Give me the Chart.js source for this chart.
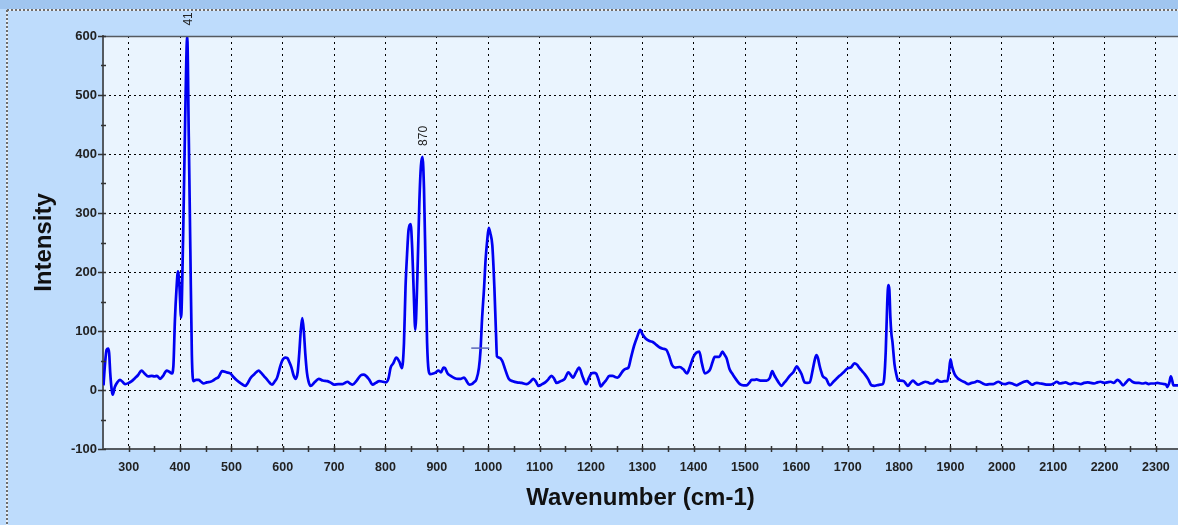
<!DOCTYPE html>
<html>
<head>
<meta charset="utf-8">
<script src="https://cdn.jsdelivr.net/npm/chart.js@4/dist/chart.umd.min.js"></script>
<style>
  html, body { margin: 0; padding: 0; background: #bedcfc; }
  #wrap { width: 1178px; height: 525px; position: relative; }
  canvas { display: block; }
</style>
</head>
<body>
<div id="wrap"><canvas id="c" width="1178" height="525"></canvas></div>
<script>
// ---- Data ----
const wavenumbers = [
  251, 254, 257, 260, 262, 264, 267, 269, 273, 278, 283, 288, 293, 300, 306, 312, 318, 325, 331, 338,
  345, 350, 355, 361, 367, 374, 379, 384, 387, 390, 393, 396, 399, 402, 406, 410, 414, 417, 420, 423,
  426, 431, 436, 441, 446, 452, 459, 464, 469, 475, 482, 490, 498, 504, 511, 519, 527, 532, 537, 545,
  553, 558, 563, 571, 579, 584, 589, 595, 599, 605, 609, 613, 617, 621, 625, 629, 632, 635, 638, 641,
  644, 647, 650, 654, 662, 670, 678, 687, 694, 700, 708, 716, 721, 726, 731, 736, 744, 752, 757, 762,
  768, 775, 781, 788, 795, 801, 806, 810, 815, 821, 827, 832, 836, 839, 842, 845, 849, 852, 855, 858,
  862, 866, 869, 872, 875, 878, 881, 884, 887, 893, 898, 903, 908, 913, 916, 921, 927, 935, 941, 947,
  953, 958, 963, 968, 972, 977, 982, 985, 988, 992, 995, 998, 1001, 1004, 1008, 1012, 1015, 1017, 1021, 1027,
  1033, 1040, 1048, 1056, 1065, 1075, 1082, 1088, 1093, 1098, 1105, 1111, 1117, 1123, 1128, 1133, 1141, 1149, 1156, 1161,
  1165, 1171, 1177, 1184, 1191, 1196, 1201, 1206, 1210, 1215, 1219, 1224, 1229, 1236, 1242, 1247, 1252, 1258, 1263, 1268,
  1273, 1278, 1284, 1290, 1296, 1300, 1307, 1314, 1321, 1328, 1334, 1340, 1347, 1352, 1358, 1364, 1373, 1380, 1387, 1393,
  1399, 1405, 1411, 1416, 1422, 1427, 1432, 1437, 1441, 1446, 1450, 1456, 1460, 1464, 1470, 1475, 1480, 1485, 1490, 1497,
  1503, 1508, 1513, 1518, 1522, 1530, 1536, 1542, 1548, 1553, 1557, 1561, 1566, 1571, 1576, 1580, 1587, 1594, 1601, 1605,
  1610, 1616, 1621, 1626, 1632, 1636, 1639, 1642, 1645, 1648, 1651, 1658, 1665, 1672, 1678, 1684, 1692, 1700, 1706, 1713,
  1718, 1723, 1728, 1733, 1740, 1746, 1752, 1757, 1763, 1768, 1771, 1774, 1777, 1779, 1781, 1783, 1785, 1787, 1791, 1795,
  1798, 1803, 1809, 1813, 1817, 1822, 1827, 1832, 1837, 1845, 1851, 1856, 1861, 1866, 1870, 1874, 1878, 1882, 1888, 1894,
  1897, 1900, 1903, 1908, 1914, 1921, 1928, 1935, 1941, 1947, 1952, 1957, 1963, 1970, 1976, 1983, 1988, 1993, 2000, 2007,
  2014, 2020, 2025, 2029, 2036, 2043, 2049, 2054, 2059, 2064, 2068, 2075, 2082, 2088, 2094, 2101, 2107, 2113, 2119, 2124,
  2129, 2134, 2141, 2148, 2154, 2160, 2167, 2173, 2180, 2186, 2192, 2199, 2205, 2212, 2218, 2225, 2230, 2236, 2242, 2248,
  2254, 2261, 2267, 2274, 2280, 2286, 2290, 2296, 2303, 2309, 2316, 2320, 2322, 2326, 2329, 2332, 2334, 2339, 2344
];
const intensities = [
    8,  45,  68,  70,  62,  30,   0,  -8,   5,  13,  17,  14,  10,  12,  15,  20,  25,  33,  28,  23,
   24,  23,  24,  19,  24,  33,  31,  28,  40, 118, 170, 201, 174, 123, 260, 460, 599, 430, 240,  60,
   15,  17,  17,  14,  11,  13,  14,  16,  19,  22,  32,  30,  28,  22,  16,  11,   7,  12,  20,  27,
   33,  29,  24,  16,   9,  14,  21,  40,  50,  55,  54,  47,  38,  25,  19,  30,  61, 100, 122, 100,
   60,  30,  15,   7,  13,  19,  16,  15,  12,   9,  10,  10,  12,  14,  11,   9,  16,  25,  26,  24,
   18,   9,  12,  15,  14,  13,  20,  38,  45,  55,  48,  37,  80, 174, 230, 272, 281, 240, 165, 102,
  190, 320, 380, 395, 340, 210,  80,  33,  27,  28,  30,  33,  30,  38,  37,  28,  24,  20,  19,  19,
   21,  15,   9,  10,  13,  18,  38,  67, 120, 174, 222, 253, 275, 266, 245, 174, 100,  57,  55,  50,
   35,  19,  15,  13,  12,  10,  14,  19,  14,   7,  10,  13,  18,  24,  20,  12,  15,  19,  30,  25,
   21,  30,  38,  22,  10,  20,  28,  29,  28,  17,   6,  11,  16,  24,  24,  22,  21,  27,  33,  36,
   38,  55,  75,  90, 102,  95,  87,  83,  81,  76,  72,  70,  68,  58,  42,  38,  39,  35,  28,  40,
   55,  63,  65,  45,  28,  30,  35,  48,  56,  56,  56,  65,  60,  54,  35,  28,  21,  15,  10,   8,
    8,  12,  17,  17,  18,  16,  16,  16,  20,  32,  25,  19,  12,   7,  12,  16,  24,  30,  40,  35,
   27,  13,  12,  13,  35,  52,  59,  54,  42,  32,  24,  19,   8,  14,  19,  24,  30,  37,  38,  45,
   43,  37,  32,  27,  18,   8,   7,   8,   9,  10,  20,  66, 150, 178, 170, 123,  95,  82,  44,  25,
   16,  16,  15,  11,   7,  12,  16,  12,   9,  12,  14,  13,  11,  11,  14,  17,  15,  14,  15,  15,
   30,  52,  40,  27,  20,  16,  13,  10,  12,  13,  15,  14,  11,   9,  10,  10,  12,  14,  11,  10,
   12,  11,   9,   8,  11,  14,  15,  12,   9,  11,  12,  11,  10,   9,   9,  11,  14,  11,  12,  13,
   11,  10,  12,  11,  10,  12,  13,  12,  11,  13,  14,  12,  13,  14,  12,  17,  14,   8,  13,  18,
   14,  12,  12,  11,  12,  10,  11,  11,  12,  11,  10,   9,   5,  12,  23,  15,   8,   8,   8
];
const xTickValues = [300, 400, 500, 600, 700, 800, 900, 1000, 1100, 1200, 1300, 1400, 1500, 1600, 1700, 1800, 1900, 2000, 2100, 2200, 2300];
const yTickValues = [-100, 0, 100, 200, 300, 400, 500, 600];
const peakLabels = ['41', '870'];
const peakX = [414, 872];
const peakY = [599, 395];
const cursorX = [967, 1002];
const cursorY = [71, 71];

const xTitle = 'Wavenumber (cm-1)';
const yTitle = 'Intensity';

// ---- Build chart ----
const FONT = "'Liberation Sans', Arial, Helvetica, sans-serif";
const points = wavenumbers.map((w, i) => ({ x: w, y: intensities[i] }));

const decor = {
  id: 'decor',
  beforeDraw(chart) {
    const { ctx, chartArea: a, width, height } = chart;
    ctx.save();
    ctx.fillStyle = '#bedcfc';
    ctx.fillRect(0, 0, width, height);
    ctx.fillStyle = '#a0c5ef';
    ctx.fillRect(0, 0, width, 9);
    // dotted frame
    ctx.lineWidth = 2;
    ctx.strokeStyle = '#e8eef6';
    ctx.beginPath();
    ctx.moveTo(7, 10); ctx.lineTo(width, 10);
    ctx.moveTo(7, 10); ctx.lineTo(7, height);
    ctx.stroke();
    ctx.strokeStyle = '#6d6d6d';
    ctx.setLineDash([2, 2]);
    ctx.beginPath();
    ctx.moveTo(7, 10); ctx.lineTo(width, 10);
    ctx.moveTo(7, 10); ctx.lineTo(7, height);
    ctx.stroke();
    ctx.setLineDash([]);
    // plot area
    ctx.fillStyle = '#eaf4fe';
    ctx.fillRect(a.left, a.top, a.right - a.left, a.bottom - a.top);
    ctx.restore();
  },
  afterDraw(chart) {
    const { ctx, chartArea: a, scales } = chart;
    const xs = scales.x, ys = scales.y;
    ctx.save();
    // top frame line
    ctx.strokeStyle = '#555a60';
    ctx.lineWidth = 1.5;
    ctx.beginPath();
    ctx.moveTo(a.left, a.top + 0.5); ctx.lineTo(a.right, a.top + 0.5);
    ctx.stroke();
    // tick marks
    ctx.strokeStyle = '#333';
    ctx.lineWidth = 1.5;
    ctx.beginPath();
    for (let v = xTickValues[0]; v <= xs.max; v += 50) {
      const px = Math.round(xs.getPixelForValue(v)) + 0.5;
      ctx.moveTo(px, a.bottom - 3); ctx.lineTo(px, a.bottom + 3);
    }
    for (let v = yTickValues[0]; v <= ys.max; v += 50) {
      const py = Math.round(ys.getPixelForValue(v)) + 0.5;
      const major = (v % 100) === 0;
      ctx.moveTo(a.left - (major ? 5 : 2), py); ctx.lineTo(a.left + 3, py);
    }
    ctx.stroke();
    // cursor mark
    ctx.strokeStyle = '#5a66b8';
    ctx.lineWidth = 1.5;
    ctx.beginPath();
    ctx.moveTo(xs.getPixelForValue(cursorX[0]), ys.getPixelForValue(cursorY[0]));
    ctx.lineTo(xs.getPixelForValue(cursorX[1]), ys.getPixelForValue(cursorY[1]));
    ctx.stroke();
    // peak labels
    ctx.fillStyle = '#222';
    ctx.font = '12px ' + FONT;
    ctx.textAlign = 'left';
    ctx.textBaseline = 'middle';
    peakLabels.forEach((t, i) => {
      const px = xs.getPixelForValue(peakX[i]);
      const py = ys.getPixelForValue(peakY[i]);
      ctx.save();
      ctx.translate(px + 1, py - 11);
      ctx.rotate(-Math.PI / 2);
      ctx.fillText(t, 0, 0);
      ctx.restore();
    });
    ctx.restore();
  }
};

new Chart(document.getElementById('c'), {
  type: 'line',
  data: {
    datasets: [{
      data: points,
      borderColor: '#0000f2',
      borderWidth: 2.7,
      pointRadius: 0,
      fill: false,
      cubicInterpolationMode: 'monotone',
      tension: 0.3
    }]
  },
  options: {
    responsive: false,
    animation: false,
    parsing: false,
    layout: { padding: { top: 36, left: 0, right: 0, bottom: 0 } },
    plugins: { legend: { display: false }, tooltip: { enabled: false } },
    scales: {
      x: {
        type: 'linear',
        min: 250,
        max: 2343,
        afterBuildTicks: s => { s.ticks = xTickValues.map(v => ({ value: v })); },
        afterFit: s => { s.height = 76; s.paddingLeft = 0; s.paddingRight = 0; },
        grid: { color: '#000', lineWidth: 1, drawTicks: false },
        border: { display: true, color: '#555a60', width: 2, dash: [2, 4] },
        ticks: {
          color: '#222', padding: 11, maxRotation: 0, autoSkip: false,
          font: { family: FONT, size: 12.5, weight: 'bold' },
          callback: v => String(v)
        },
        title: {
          display: true, text: xTitle, color: '#111',
          font: { family: FONT, size: 24, weight: 'bold' },
          padding: { top: 0, bottom: 12 }
        }
      },
      y: {
        type: 'linear',
        min: -100,
        max: 600,
        afterBuildTicks: s => { s.ticks = yTickValues.map(v => ({ value: v })); },
        afterFit: s => { s.width = 103; s.paddingTop = 0; s.paddingBottom = 0; },
        grid: { color: '#000', lineWidth: 1, drawTicks: false },
        border: { display: true, color: '#555a60', width: 2, dash: [2, 3] },
        ticks: {
          color: '#222', padding: 6,
          font: { family: FONT, size: 13, weight: 'bold' },
          callback: v => String(v)
        },
        title: {
          display: true, text: yTitle, color: '#111',
          font: { family: FONT, size: 24, weight: 'bold' },
          padding: { top: 30, bottom: 0 }
        }
      }
    }
  },
  plugins: [decor]
});
</script>
</body>
</html>
